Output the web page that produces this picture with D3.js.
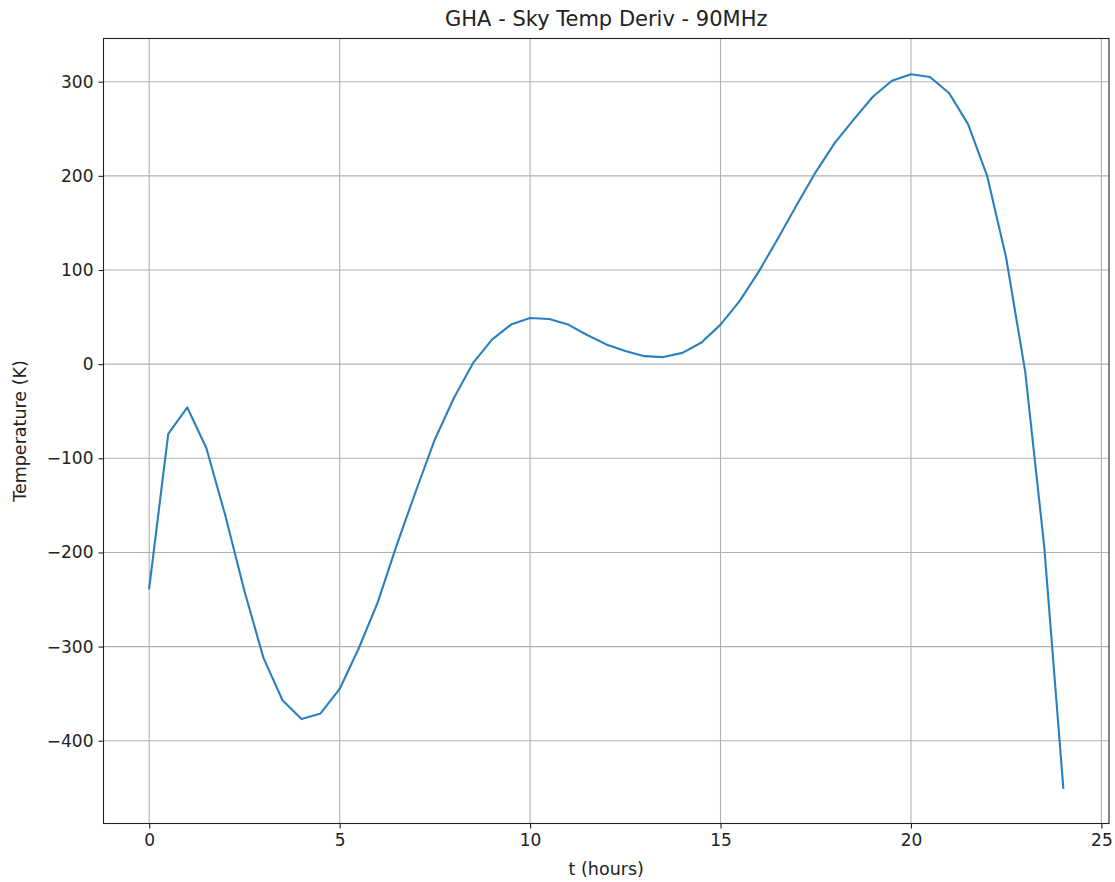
<!DOCTYPE html>
<html>
<head>
<meta charset="utf-8">
<script src="https://cdn.jsdelivr.net/npm/d3@7"></script>
<style>
  html, body { margin: 0; padding: 0; background: #fff; }
  svg { display: block; font-family: "DejaVu Sans", sans-serif; }
</style>
</head>
<body>
<svg id="chart" width="1115" height="882"></svg>
<script>
// Time in hours, sampled every half hour
const hours = [0, 0.5, 1, 1.5, 2, 2.5, 3, 3.5, 4, 4.5, 5, 5.5, 6, 6.5, 7, 7.5, 8, 8.5,
  9, 9.5, 10, 10.5, 11, 11.5, 12, 12.5, 13, 13.5, 14, 14.5, 15, 15.5, 16, 16.5, 17,
  17.5, 18, 18.5, 19, 19.5, 20, 20.5, 21, 21.5, 22, 22.5, 23, 23.5, 24];

// Sky temperature derivative (K)
const temps = [-238, -74, -46, -89, -161, -241, -312, -357, -377, -371, -345, -302,
  -253, -192, -135, -80, -36, 1, 26, 42, 49, 48, 42, 31, 21, 14, 8.5, 7.5, 12, 23,
  42, 67, 98, 133, 169, 204, 235, 260, 284, 301, 308, 305, 288, 255, 200, 113, -8,
  -194, -450];

const xTicks = [0, 5, 10, 15, 20, 25];
const yTicks = [-400, -300, -200, -100, 0, 100, 200, 300];

const titleText = "GHA - Sky Temp Deriv - 90MHz";
const xLabel = "t (hours)";
const yLabel = "Temperature (K)";

const margin = { left: 103.5, right: 6, top: 38.5, bottom: 58.5 };
const W = 1115, H = 882;
const innerW = W - margin.left - margin.right;
const innerH = H - margin.top - margin.bottom;

const svg = d3.select("#chart");
const g = svg.append("g").attr("transform", `translate(${margin.left},${margin.top})`);

// 5% padding around the data on both axes
const xExt = d3.extent(hours), yExt = d3.extent(temps);
const xPad = (xExt[1] - xExt[0]) * 0.05, yPad = (yExt[1] - yExt[0]) * 0.05;
const x = d3.scaleLinear().domain([xExt[0] - xPad, xExt[1] + xPad]).range([0, innerW]);
const y = d3.scaleLinear().domain([yExt[0] - yPad, yExt[1] + yPad]).range([innerH, 0]);

// Grid
g.append("g").selectAll("line").data(xTicks).join("line")
  .attr("x1", d => x(d)).attr("x2", d => x(d))
  .attr("y1", 0).attr("y2", innerH)
  .attr("stroke", "#b0b0b0").attr("stroke-width", 1.1);
g.append("g").selectAll("line").data(yTicks).join("line")
  .attr("y1", d => y(d)).attr("y2", d => y(d))
  .attr("x1", 0).attr("x2", innerW)
  .attr("stroke", "#b0b0b0").attr("stroke-width", 1.1);

// Data line
const line = d3.line().x((d, i) => x(hours[i])).y(d => y(d));
g.append("path").datum(temps)
  .attr("fill", "none")
  .attr("stroke", "#2a80bf")
  .attr("stroke-width", 2.1)
  .attr("stroke-linejoin", "round")
  .attr("stroke-linecap", "square")
  .attr("d", line);

// Axes
const fmt = d => d < 0 ? "\u2212" + Math.abs(d) : String(d);
const xAxis = g.append("g").attr("transform", `translate(0,${innerH})`)
  .call(d3.axisBottom(x).tickValues(xTicks).tickFormat(fmt).tickSize(5).tickPadding(5));
const yAxis = g.append("g")
  .call(d3.axisLeft(y).tickValues(yTicks).tickFormat(fmt).tickSize(5).tickPadding(5));
[xAxis, yAxis].forEach(a => {
  a.select(".domain").remove();
  a.selectAll(".tick line").attr("stroke", "#222").attr("stroke-width", 1.1);
  a.selectAll(".tick text").attr("fill", "#222")
    .style("font-family", "'DejaVu Sans', sans-serif").style("font-size", "17px");
});

// Frame
g.append("rect").attr("x", 0).attr("y", 0).attr("width", innerW).attr("height", innerH)
  .attr("fill", "none").attr("stroke", "#222").attr("stroke-width", 1.1);

// Title and axis labels
svg.append("text").attr("x", margin.left + innerW / 2).attr("y", 26)
  .attr("text-anchor", "middle").attr("fill", "#222")
  .style("font-size", "21px").text(titleText);
svg.append("text").attr("x", margin.left + innerW / 2).attr("y", 875)
  .attr("text-anchor", "middle").attr("fill", "#222")
  .style("font-size", "17.5px").text(xLabel);
svg.append("text")
  .attr("transform", `translate(26,${margin.top + innerH / 2}) rotate(-90)`)
  .attr("text-anchor", "middle").attr("fill", "#222")
  .style("font-size", "17.5px").text(yLabel);
</script>
</body>
</html>
